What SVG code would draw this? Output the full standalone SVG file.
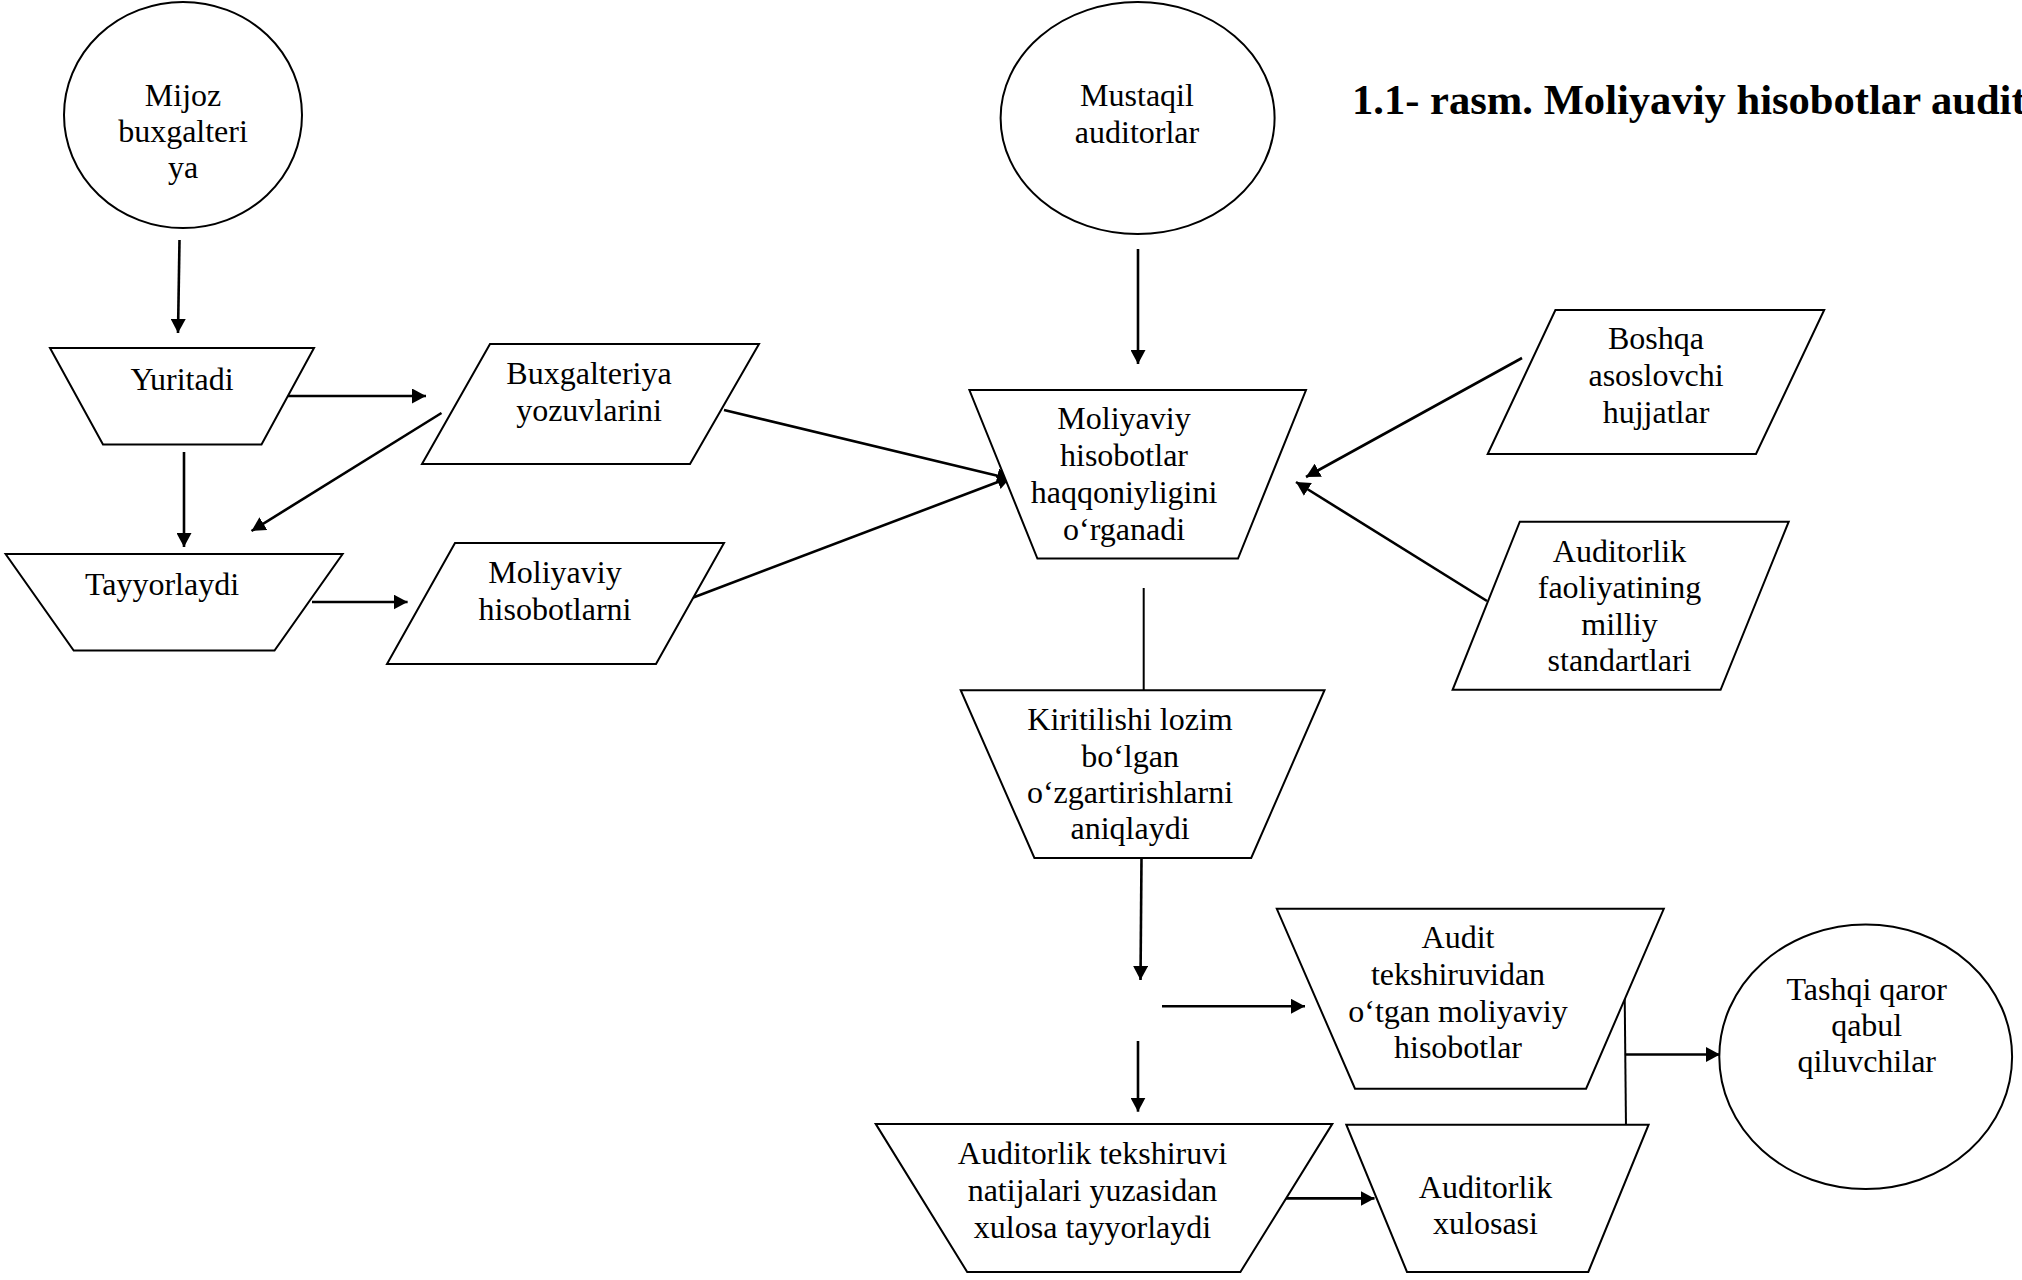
<svg xmlns="http://www.w3.org/2000/svg" width="2022" height="1280" viewBox="0 0 2022 1280">
  <defs>
    <style>
      .shape { fill: #ffffff; stroke: #000000; stroke-width: 2; }
      .edge { fill: none; stroke: #000000; stroke-width: 2.6; }
      .edge-thin { fill: none; stroke: #000000; stroke-width: 2; }
      .label { font-family: "Liberation Serif", "Times New Roman", serif; font-size: 32px; fill: #000000; text-anchor: middle; }
      .title { font-family: "Liberation Serif", "Times New Roman", serif; font-size: 42.6px; font-weight: bold; fill: #000000; }
    </style>
    <marker id="arrow" viewBox="0 0 14 15" refX="14" refY="7.5" markerWidth="14" markerHeight="15" markerUnits="userSpaceOnUse" orient="auto">
      <path d="M0,0 L14,7.5 L0,15 Z" fill="#000000"/>
    </marker>
  </defs>
  <rect width="2022" height="1280" fill="#ffffff"/>

  <text class="title" x="1352" y="114">1.1- rasm. Moliyaviy hisobotlar audit</text>

  <!-- connectors -->
  <g id="connectors">
    <line class="edge" x1="179.5" y1="240" x2="178" y2="333" marker-end="url(#arrow)"/>
    <line class="edge" x1="282" y1="396" x2="426" y2="396" marker-end="url(#arrow)"/>
    <line class="edge" x1="441.5" y1="413" x2="251.5" y2="531" marker-end="url(#arrow)"/>
    <line class="edge" x1="184" y1="452" x2="184" y2="547" marker-end="url(#arrow)"/>
    <line class="edge" x1="312" y1="602" x2="407.6" y2="602" marker-end="url(#arrow)"/>
    <line class="edge" x1="724" y1="410" x2="1011" y2="479" marker-end="url(#arrow)"/>
    <line class="edge" x1="692" y1="598" x2="1011" y2="477" marker-end="url(#arrow)"/>
    <line class="edge" x1="1138" y1="249" x2="1138" y2="364" marker-end="url(#arrow)"/>
    <line class="edge" x1="1522" y1="358" x2="1306" y2="477" marker-end="url(#arrow)"/>
    <line class="edge" x1="1487" y1="601" x2="1296" y2="482" marker-end="url(#arrow)"/>
    <line class="edge-thin" x1="1143.7" y1="588" x2="1143.7" y2="690"/>
    <line class="edge" x1="1141.5" y1="858" x2="1140.5" y2="980" marker-end="url(#arrow)"/>
    <line class="edge" x1="1162" y1="1006.3" x2="1305" y2="1006.3" marker-end="url(#arrow)"/>
    <line class="edge" x1="1138" y1="1041" x2="1138" y2="1111.7" marker-end="url(#arrow)"/>
    <line class="edge" x1="1281" y1="1198.4" x2="1374.5" y2="1198.4" marker-end="url(#arrow)"/>
    <line class="edge-thin" x1="1624.7" y1="997" x2="1626" y2="1128"/>
    <line class="edge" x1="1626" y1="1054.5" x2="1720" y2="1054.5" marker-end="url(#arrow)"/>
  </g>

  <g id="node-mijoz">
    <ellipse class="shape" cx="183" cy="115" rx="119" ry="113"/>
    <text class="label" x="183" y="106">Mijoz</text>
    <text class="label" x="183" y="142">buxgalteri</text>
    <text class="label" x="183" y="178">ya</text>
  </g>

  <g id="node-mustaqil">
    <ellipse class="shape" cx="1137.6" cy="118" rx="137" ry="116"/>
    <text class="label" x="1137" y="106">Mustaqil</text>
    <text class="label" x="1137" y="143">auditorlar</text>
  </g>

  <g id="node-yuritadi">
    <polygon class="shape" points="50,348 314,348 261.5,444.5 103,444.5"/>
    <text class="label" x="182" y="390">Yuritadi</text>
  </g>

  <g id="node-buxgalteriya">
    <polygon class="shape" points="490,344 759,344 690,464 422,464"/>
    <text class="label" x="589" y="384">Buxgalteriya</text>
    <text class="label" x="589" y="421">yozuvlarini</text>
  </g>

  <g id="node-tayyorlaydi">
    <polygon class="shape" points="5.6,554 342.6,554 274.5,650.5 73.7,650.5"/>
    <text class="label" x="162" y="595">Tayyorlaydi</text>
  </g>

  <g id="node-moliyaviy-hisobotlarni">
    <polygon class="shape" points="455,543 724,543 656,664 387,664"/>
    <text class="label" x="555" y="583">Moliyaviy</text>
    <text class="label" x="555" y="620">hisobotlarni</text>
  </g>

  <g id="node-haqqoniylik">
    <polygon class="shape" points="969.4,390 1306,390 1238,558.5 1037.4,558.5"/>
    <text class="label" x="1124" y="429">Moliyaviy</text>
    <text class="label" x="1124" y="466">hisobotlar</text>
    <text class="label" x="1124" y="503">haqqoniyligini</text>
    <text class="label" x="1124" y="540">o‘rganadi</text>
  </g>

  <g id="node-boshqa">
    <polygon class="shape" points="1555.4,310 1824.2,310 1756,454 1487.7,454"/>
    <text class="label" x="1656" y="349">Boshqa</text>
    <text class="label" x="1656" y="386">asoslovchi</text>
    <text class="label" x="1656" y="423">hujjatlar</text>
  </g>

  <g id="node-standartlar">
    <polygon class="shape" points="1519.8,521.7 1788.7,521.7 1720.6,689.8 1452.6,689.8"/>
    <text class="label" x="1619.5" y="561.6">Auditorlik</text>
    <text class="label" x="1619.5" y="598.4">faoliyatining</text>
    <text class="label" x="1619.5" y="634.7">milliy</text>
    <text class="label" x="1619.5" y="670.7">standartlari</text>
  </g>

  <g id="node-kiritilishi">
    <polygon class="shape" points="960.7,690.2 1324.5,690.2 1251.2,858 1034.4,858"/>
    <text class="label" x="1130" y="730">Kiritilishi lozim</text>
    <text class="label" x="1130" y="767">bo‘lgan</text>
    <text class="label" x="1130" y="803">o‘zgartirishlarni</text>
    <text class="label" x="1130" y="839">aniqlaydi</text>
  </g>

  <g id="node-audit-hisobotlar">
    <polygon class="shape" points="1276.8,908.8 1663.8,908.8 1586.1,1088.7 1355,1088.7"/>
    <text class="label" x="1458" y="948">Audit</text>
    <text class="label" x="1458" y="985">tekshiruvidan</text>
    <text class="label" x="1458" y="1021.5">o‘tgan moliyaviy</text>
    <text class="label" x="1458" y="1057.5">hisobotlar</text>
  </g>

  <g id="node-xulosa-tayyorlaydi">
    <polygon class="shape" points="875.7,1123.9 1332.3,1123.9 1240.4,1272 967.2,1272"/>
    <text class="label" x="1092.5" y="1164">Auditorlik tekshiruvi</text>
    <text class="label" x="1092.5" y="1201">natijalari yuzasidan</text>
    <text class="label" x="1092.5" y="1237.5">xulosa tayyorlaydi</text>
  </g>

  <g id="node-auditorlik-xulosasi">
    <polygon class="shape" points="1346.3,1124.7 1648.6,1124.7 1588.3,1272 1407,1272"/>
    <text class="label" x="1485.5" y="1198.4">Auditorlik</text>
    <text class="label" x="1485.5" y="1234.4">xulosasi</text>
  </g>

  <g id="node-tashqi">
    <ellipse class="shape" cx="1865.7" cy="1056.7" rx="146.4" ry="132.3"/>
    <text class="label" x="1866.7" y="1000">Tashqi qaror</text>
    <text class="label" x="1866.7" y="1036">qabul</text>
    <text class="label" x="1866.7" y="1072">qiluvchilar</text>
  </g>
</svg>
